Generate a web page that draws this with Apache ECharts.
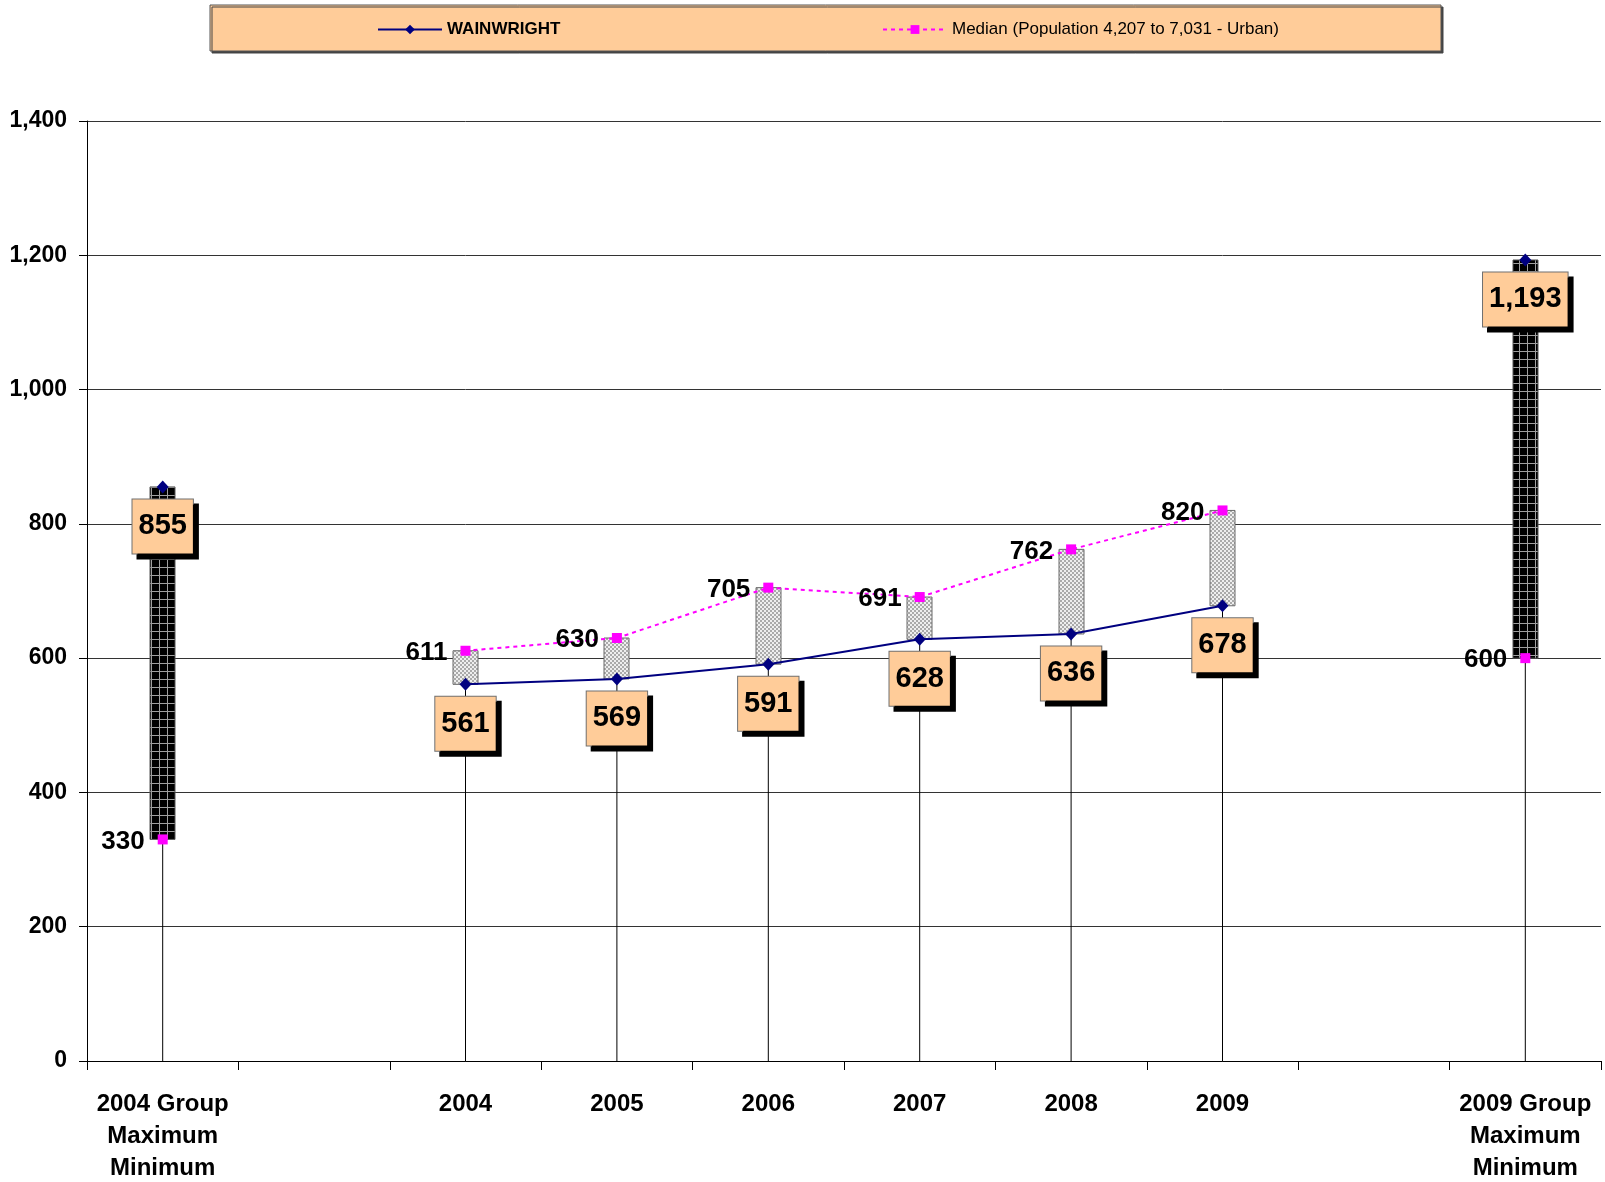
<!DOCTYPE html>
<html>
<head>
<meta charset="utf-8">
<script src="https://cdn.jsdelivr.net/npm/echarts@6/dist/echarts.min.js"></script>
<style>
html,body{margin:0;padding:0;background:#fff;}
#chart{width:1605px;height:1182px;}
</style>
</head>
<body>
<div id="chart"></div>
<script>
var categories = ['2004 Group\nMaximum\nMinimum', '', '2004', '2005', '2006', '2007', '2008', '2009', '', '2009 Group\nMaximum\nMinimum'];
var wainwright = [855, null, 561, 569, 591, 628, 636, 678, null, 1193];
var median = [330, null, 611, 630, 705, 691, 762, 820, null, 600];
var groupSlots = [0, 9];
var yTicks = [0, 200, 400, 600, 800, 1000, 1200, 1400];

var FONT = '"Liberation Sans", Arial, sans-serif';

function makeChecker() {
  var c = document.createElement('canvas'); c.width = 4; c.height = 4;
  var g = c.getContext('2d');
  g.fillStyle = '#eeeeee'; g.fillRect(0, 0, 4, 4);
  g.fillStyle = '#aaaaaa'; g.fillRect(0, 0, 2, 2); g.fillRect(2, 2, 2, 2);
  return c;
}
function makeGrid() {
  var c = document.createElement('canvas'); c.width = 8; c.height = 8;
  var g = c.getContext('2d');
  g.fillStyle = '#000'; g.fillRect(0, 0, 8, 8);
  g.fillStyle = '#a0a0a0'; g.fillRect(7, 0, 1, 8); g.fillRect(0, 7, 8, 1);
  return c;
}
var checkerPat = { image: makeChecker(), repeat: 'repeat' };
var gridPat = { image: makeGrid(), repeat: 'repeat' };

var hlData = [];
for (var i = 0; i < categories.length; i++) {
  if (wainwright[i] == null || median[i] == null) continue;
  hlData.push([i, Math.min(wainwright[i], median[i]), Math.max(wainwright[i], median[i]), groupSlots.indexOf(i) >= 0 ? 1 : 0]);
}

function fmt(v) { return Number(v).toLocaleString('en-US'); }

var chart = echarts.init(document.getElementById('chart'));
var option = {
  animation: false,
  backgroundColor: '#fff',
  graphic: [{
    type: 'rect', z: -1,
    shape: { x: 210, y: 5, width: 1231, height: 46 },
    style: { fill: '#FFCC99', stroke: '#555', lineWidth: 1, shadowColor: '#444', shadowOffsetX: 2, shadowOffsetY: 2, shadowBlur: 0 }
  }],
  legend: [{
    left: 372, top: 16, itemWidth: 64, itemHeight: 12, itemGap: 0,
    data: [{ name: 'WAINWRIGHT', textStyle: { fontWeight: 'bold' } }],
    textStyle: { fontFamily: FONT, fontSize: 17, color: '#000' }
  }, {
    left: 877, top: 16, itemWidth: 64, itemHeight: 11, itemGap: 0,
    data: ['Median (Population 4,207 to 7,031 - Urban)'],
    textStyle: { fontFamily: FONT, fontSize: 17, color: '#000' }
  }],
  grid: { left: 87, right: 4, top: 121, bottom: 121, containLabel: false, outerBoundsMode: 'none' },
  xAxis: {
    type: 'category', data: categories, boundaryGap: true,
    axisLine: { lineStyle: { color: '#000', width: 1 } },
    axisTick: { show: true, length: 9, lineStyle: { color: '#000' }, interval: 0 },
    axisLabel: { interval: 0, margin: 27, fontFamily: FONT, fontSize: 24, fontWeight: 'bold', color: '#000', lineHeight: 32 },
    splitLine: { show: false }
  },
  yAxis: {
    type: 'value', min: yTicks[0], max: yTicks[yTicks.length - 1], interval: yTicks[1] - yTicks[0],
    axisLine: { show: true, lineStyle: { color: '#000', width: 1 } },
    axisTick: { show: true, length: 8, lineStyle: { color: '#000' } },
    axisLabel: { margin: 20, fontFamily: FONT, fontSize: 23, fontWeight: 'bold', color: '#000', formatter: function (v) { return fmt(v); } },
    splitLine: { show: true, lineStyle: { color: '#333', width: 1 } }
  },
  series: [{
    type: 'custom', z: 1, silent: true,
    data: hlData,
    encode: { x: 0, y: [1, 2] },
    renderItem: function (params, api) {
      var idx = api.value(0), lo = api.value(1), hi = api.value(2), kind = api.value(3);
      var p0 = api.coord([idx, 0]);
      var pl = api.coord([idx, lo]);
      var ph = api.coord([idx, hi]);
      var w = 25;
      return {
        type: 'group',
        children: [{
          type: 'line',
          shape: { x1: pl[0], y1: p0[1], x2: pl[0], y2: pl[1] },
          style: { stroke: '#000', lineWidth: 1 }
        }, {
          type: 'rect',
          shape: { x: Math.round(ph[0] - w / 2), y: ph[1], width: w, height: pl[1] - ph[1] },
          style: { fill: kind ? gridPat : checkerPat, stroke: kind ? '#555' : '#6a6a6a', lineWidth: 1 }
        }]
      };
    }
  }, {
    name: 'WAINWRIGHT', type: 'line', z: 5, data: wainwright, connectNulls: false,
    symbol: 'diamond', symbolSize: [12, 13],
    itemStyle: { color: '#000080' },
    lineStyle: { color: '#000080', width: 2 },
    label: {
      show: true, position: 'bottom', distance: 6,
      formatter: function (p) { return fmt(p.value); },
      fontFamily: FONT, fontSize: 29, fontWeight: 'bold', color: '#000', lineHeight: 30,
      backgroundColor: '#FFCC99', borderColor: '#707070', borderWidth: 1,
      padding: [12, 6, 12, 6],
      shadowColor: '#000', shadowBlur: 0, shadowOffsetX: 5, shadowOffsetY: 5
    }
  }, {
    name: 'Median (Population 4,207 to 7,031 - Urban)', type: 'line', z: 6, data: median, connectNulls: false,
    symbol: 'rect', symbolSize: 10,
    itemStyle: { color: '#FF00FF' },
    lineStyle: { color: '#FF00FF', width: 2, type: [4, 4] },
    label: {
      show: true, position: 'left', distance: 13, offset: [0, 2],
      formatter: function (p) { return fmt(p.value); },
      fontFamily: FONT, fontSize: 26, fontWeight: 'bold', color: '#000'
    }
  }]
};
chart.setOption(option);
</script>
</body>
</html>
